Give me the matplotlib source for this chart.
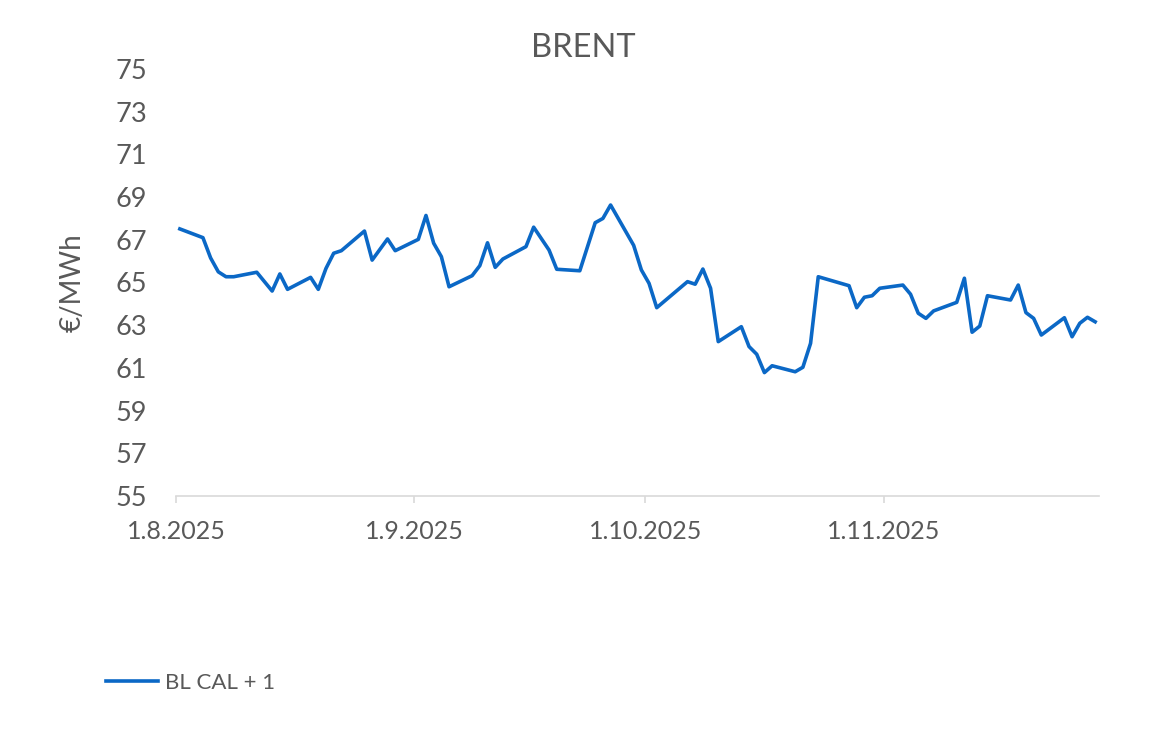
# -*- coding: utf-8 -*-
import matplotlib
matplotlib.use("Agg")
import matplotlib.pyplot as plt
import matplotlib.dates as mdates
import pandas as pd

# data
dates = [
    "2025-08-01", "2025-08-04", "2025-08-05", "2025-08-06", "2025-08-07", "2025-08-08",
    "2025-08-11", "2025-08-13", "2025-08-14", "2025-08-15", "2025-08-18", "2025-08-19",
    "2025-08-20", "2025-08-21", "2025-08-22", "2025-08-25", "2025-08-26", "2025-08-28",
    "2025-08-29", "2025-09-01", "2025-09-02", "2025-09-03", "2025-09-04", "2025-09-05",
    "2025-09-08", "2025-09-09", "2025-09-10", "2025-09-11", "2025-09-12", "2025-09-15",
    "2025-09-16", "2025-09-18", "2025-09-19", "2025-09-22", "2025-09-24", "2025-09-25",
    "2025-09-26", "2025-09-29", "2025-09-30", "2025-10-01", "2025-10-02", "2025-10-06",
    "2025-10-07", "2025-10-08", "2025-10-09", "2025-10-10", "2025-10-13", "2025-10-14",
    "2025-10-15", "2025-10-16", "2025-10-17", "2025-10-20", "2025-10-21", "2025-10-22",
    "2025-10-23", "2025-10-27", "2025-10-28", "2025-10-29", "2025-10-30", "2025-10-31",
    "2025-11-03", "2025-11-04", "2025-11-05", "2025-11-06", "2025-11-07", "2025-11-10",
    "2025-11-11", "2025-11-12", "2025-11-13", "2025-11-14", "2025-11-17", "2025-11-18",
    "2025-11-19", "2025-11-20", "2025-11-21", "2025-11-24", "2025-11-25", "2025-11-26",
    "2025-11-27", "2025-11-28",
]
bl_cal1 = [
    67.51, 67.10, 66.15, 65.50, 65.27, 65.27,
    65.48, 64.60, 65.40, 64.68, 65.24, 64.68,
    65.66, 66.37, 66.49, 67.41, 66.05, 67.04,
    66.49, 67.02, 68.14, 66.84, 66.21, 64.80,
    65.32, 65.79, 66.86, 65.71, 66.10, 66.68,
    67.59, 66.52, 65.62, 65.55, 67.80, 68.00,
    68.63, 66.74, 65.59, 64.96, 63.82, 65.04,
    64.92, 65.63, 64.73, 62.23, 62.93, 62.00,
    61.64, 60.78, 61.10, 60.82, 61.03, 62.15,
    65.27, 64.85, 63.82, 64.31, 64.38, 64.73,
    64.88, 64.45, 63.56, 63.32, 63.67, 64.07,
    65.20, 62.67, 62.96, 64.38, 64.18, 64.88,
    63.59, 63.32, 62.54, 63.35, 62.46, 63.09,
    63.37, 63.16,
]
series_name = "BL CAL + 1"
chart_title = "BRENT"
y_label = "€/MWh"
y_ticks = list(range(55, 76, 2))
x_ticks = ["2025-08-01", "2025-09-01", "2025-10-01", "2025-11-01"]

plt.rcParams['font.family'] = ['Lato', 'DejaVu Sans']
text_col = '#595959'
axis_col = '#D9D9D9'
line_col = '#0B68C6'

def day_fmt(v, pos):
    d = mdates.num2date(v)
    return "{}.{}.{}".format(d.day, d.month, d.year)

fig = plt.figure(figsize=(11.67, 7.44), dpi=100)
ax = fig.add_axes([176 / 1167, 1 - 496 / 744, 923 / 1167, 427 / 744])

# points sit in the middle of their day slot (date axis)
x = pd.to_datetime(dates) + pd.Timedelta(hours=12)
ax.plot(x, bl_cal1, color=line_col, lw=2.6, solid_joinstyle='round', label=series_name)

ax.set_xlim(pd.Timestamp("2025-08-01"), pd.Timestamp("2025-11-29"))
ax.set_ylim(55, 75)
ax.set_yticks(y_ticks)
ax.set_xticks(pd.to_datetime(x_ticks))
ax.xaxis.set_major_formatter(plt.FuncFormatter(day_fmt))

for s in ['top', 'right', 'left']:
    ax.spines[s].set_visible(False)
ax.spines['bottom'].set_color(axis_col)
ax.spines['bottom'].set_linewidth(1.2)

ax.tick_params(axis='y', length=0, pad=21, labelsize=19.5, labelcolor=text_col)
ax.tick_params(axis='x', length=5, width=1.2, color=axis_col, pad=12, labelsize=18, labelcolor=text_col)

ax.set_ylabel(y_label, fontsize=20, color=text_col)
ax.yaxis.set_label_coords(-0.0975, 0.5)

fig.text(0.4996, 1 - 57 / 744, chart_title, ha='center', va='baseline', fontsize=23.5, color=text_col)

fig.legend(loc='center left', bbox_to_anchor=(106 / 1167, 1 - 683 / 744), frameon=False,
           fontsize=16, handlelength=2.35, handletextpad=0.3, borderpad=0, borderaxespad=0,
           labelcolor=text_col)

fig.savefig('out.png', dpi=100, facecolor='white')
